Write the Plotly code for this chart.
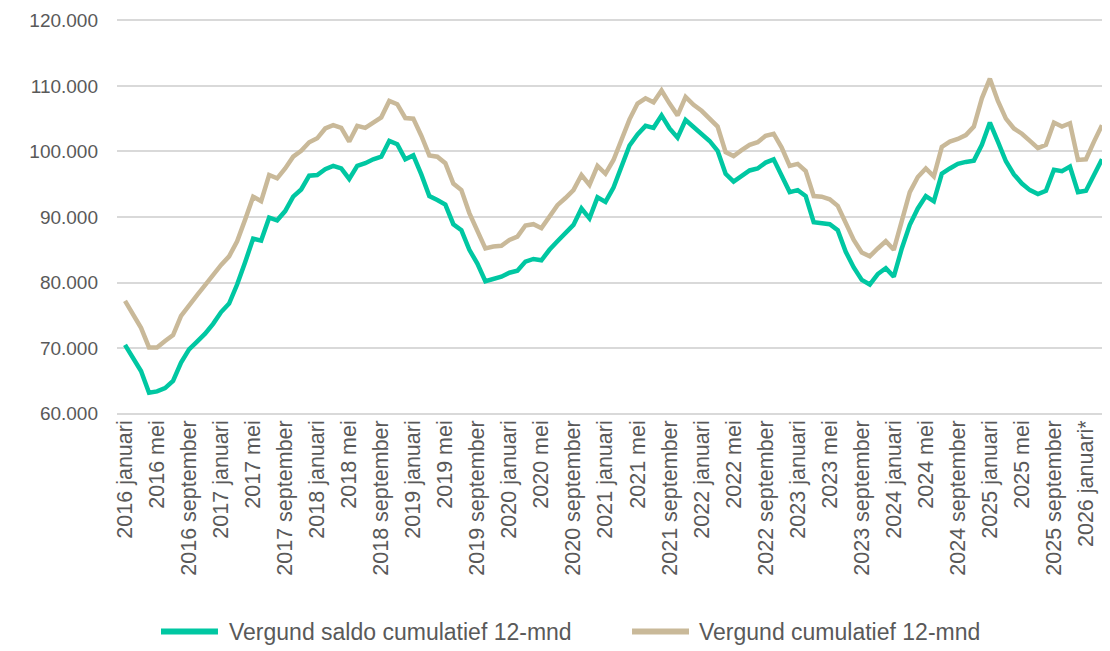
import plotly.graph_objects as go

maanden = ["januari", "februari", "maart", "april", "mei", "juni", "juli",
           "augustus", "september", "oktober", "november", "december"]

# maandlabels 2016 januari .. 2026 maart (2026 voorlopig, met *)
periodes = []
for jaar in range(2016, 2027):
    for m in maanden:
        if len(periodes) == 123:
            break
        periodes.append(f"{jaar} {m}" + ("*" if jaar == 2026 else ""))

saldo_12m = [
    70500, 68500, 66500, 63200, 63400, 63900, 65000, 67800, 69800, 71000, 72200, 73700,
    75500, 76800, 79700, 83100, 86700, 86400, 89900, 89500, 90900, 93100, 94200, 96300,
    96400, 97300, 97800, 97400, 95800, 97800, 98200, 98800, 99200, 101600, 101100, 98800,
    99400, 96500, 93200, 92600, 91900, 88900, 88000, 85000, 82900, 80200, 80500, 80900,
    81500, 81800, 83200, 83600, 83400, 85000, 86300, 87600, 88800, 91300, 89800, 93000,
    92300, 94500, 97700, 100900, 102600, 103900, 103600, 105500, 103500, 102100, 104800, 103800,
    102800, 101600, 100100, 96600, 95400, 96300, 97100, 97400, 98300, 98800, 96400, 93800,
    94100, 93200, 89200, 89000, 88900, 88000, 84700, 82300, 80400, 79700, 81300, 82200,
    80900, 85200, 88800, 91300, 93200, 92400, 96600, 97400, 98100, 98400, 98600, 101000,
    104400, 101500, 98500, 96500, 95100, 94100, 93500, 94000, 97200, 97000, 97700, 93800,
    94000, 96400, 98800,
]

vergund_12m = [
    77200, 75100, 73100, 70100, 70100, 71100, 72000, 74900, 76600, 78100, 79600, 81200,
    82700, 84000, 86300, 89600, 93100, 92400, 96400, 95900, 97400, 99200, 100100, 101400,
    102000, 103500, 104000, 103600, 101500, 103900, 103600, 104400, 105200, 107700, 107200, 105100,
    105000, 102400, 99400, 99200, 98200, 95100, 94100, 90600, 88000, 85200, 85500, 85600,
    86500, 87000, 88700, 88900, 88300, 90000, 91800, 92900, 94100, 96400, 94900, 97800,
    96600, 98700, 102000, 104900, 107300, 108100, 107500, 109300, 107300, 105500, 108300, 107100,
    106200, 105000, 103800, 99900, 99300, 100200, 101000, 101400, 102400, 102700, 100600, 97800,
    98100, 97000, 93200, 93100, 92700, 91700, 88900, 86500, 84600, 84000, 85200, 86300,
    85000, 89500, 93800, 96100, 97400, 96200, 100700, 101500, 101900, 102500, 103800, 108100,
    111100, 107700, 105000, 103500, 102700, 101600, 100500, 101000, 104400, 103800, 104300, 98700,
    98800, 101500, 104000,
]

reeksen = ["Vergund saldo cumulatief 12-mnd", "Vergund cumulatief 12-mnd"]
y_ticks = [60000, 70000, 80000, 90000, 100000, 110000, 120000]

TEAL = "#00C7A2"
BEIGE = "#C9B999"
GRID = "#D9D9D9"
TEXT = "#595959"
kleuren = [TEAL, BEIGE]

fig = go.Figure()
for naam, waarden, kleur in zip(reeksen, [saldo_12m, vergund_12m], kleuren):
    fig.add_trace(go.Scatter(x=periodes, y=waarden, mode="lines", name=naam,
                             line=dict(color=kleur, width=4.5)))

# eigen legenda (langere lijnstukjes dan de standaard legenda)
leg_y = -0.547
for (x0, x1, xt), naam, kleur in zip([(0.0444, 0.1019, 0.111), (0.5197, 0.5772, 0.5853)],
                                     reeksen, kleuren):
    fig.add_shape(type="line", xref="paper", yref="paper", x0=x0, x1=x1, y0=leg_y, y1=leg_y,
                  line=dict(color=kleur, width=6))
    fig.add_annotation(xref="paper", yref="paper", x=xt, y=leg_y, text=naam, showarrow=False,
                       xanchor="left", yanchor="middle", font=dict(size=23, color=TEXT))

fig.update_layout(
    width=1102, height=643,
    margin=dict(l=109, r=2, t=8.7, b=235.7),
    paper_bgcolor="white", plot_bgcolor="white",
    separators=",.",
    font=dict(family="Arial, Liberation Sans, sans-serif", size=21, color=TEXT),
    showlegend=False,
    hovermode=False,
)
fig.update_xaxes(
    type="category", range=[-1, 122.75],
    tickmode="array", tickvals=periodes[::4], tickangle=-90,
    showgrid=False, zeroline=False, showline=False,
    ticks="", tickfont=dict(size=21.5, color=TEXT),
)
fig.update_yaxes(
    range=[59800, 120200], tickvals=y_ticks, tickformat=",d",
    showgrid=True, gridcolor=GRID, gridwidth=2, zeroline=False, showline=False,
    ticks="", ticklabelstandoff=18, ticklabeloverflow="allow",
    tickfont=dict(size=19, color=TEXT),
)

fig.write_html("out.html")
